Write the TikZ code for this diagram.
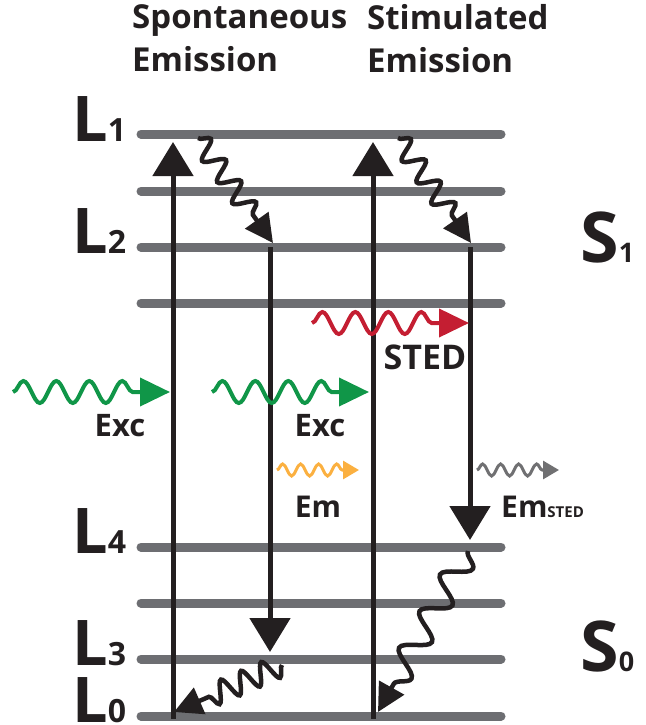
\documentclass[tikz,border=0pt]{standalone}
\usepackage{fontspec}
\setmainfont{Open Sans}
\usetikzlibrary{arrows.meta,calc,decorations.pathmorphing}
\definecolor{LevelGray}{RGB}{109,110,114}
\definecolor{Ink}{RGB}{35,31,32}
\definecolor{ExcGreen}{RGB}{16,150,72}
\definecolor{StedRed}{RGB}{196,30,50}
\definecolor{EmOrange}{RGB}{251,176,64}
\definecolor{EmGray}{RGB}{112,112,114}

\begin{document}
\begin{tikzpicture}[x=1pt,y=-1pt,>=Latex,
  level/.style={line width=9pt,LevelGray,line cap=round},
  pump/.style={line width=5pt,Ink,-{Triangle[width=40pt,length=34pt]}},
  relax/.style={line width=4.5pt,Ink,-{Triangle[width=28pt,length=28pt]}},
  wig/.style 2 args={decoration={snake,amplitude=#1,segment length=#2}},
  photon/.style={line width=4pt,#1,-{Triangle[width=28pt,length=30pt]},decorate,
    decoration={snake,amplitude=11pt,segment length=33pt,post length=30pt}},
  photonsmall/.style={line width=3pt,#1,-{Triangle[width=18pt,length=16pt]},decorate,
    decoration={snake,amplitude=6pt,segment length=18pt,post length=16pt}},
  lbl/.style={inner sep=0pt,text=Ink,font=\bfseries\fontsize{31}{31}\selectfont}]
\useasboundingbox (0,0) rectangle (645,725);
% energy levels
\foreach \n/\y in {1/134,a/191,2/247,b/303,4/547,c/603,3/659,0/716}{
  \coordinate (w\n) at (141,\y);\coordinate (e\n) at (501,\y);
  \draw[level] (w\n)--(e\n);}
\foreach \n/\y in {1/141,2/253,4/553,3/665,0/722}{
  \node[inner sep=0pt,anchor=base west,text=Ink,font=\bfseries] (lab\n) at (72,\y)
    {{\fontsize{63}{63}\selectfont L}{\fontsize{32}{32}\selectfont\n}};}
\node[inner sep=0pt,anchor=base west,text=Ink,font=\bfseries] (s1) at (580,262)
  {{\fontsize{70}{70}\selectfont S}{\fontsize{27}{27}\selectfont 1}};
\node[inner sep=0pt,anchor=base west,text=Ink,font=\bfseries] (s0) at (580,671)
  {{\fontsize{70}{70}\selectfont S}{\fontsize{27}{27}\selectfont 0}};
% titles
\node[lbl,anchor=north west,align=left,font=\bfseries\fontsize{33}{43}\selectfont] (spont) at (132,4) {Spontaneous\\Emission};
\node[lbl,anchor=north west,align=left,font=\bfseries\fontsize{33}{43}\selectfont] (stim) at (367,4) {Stimulated\\Emission};
% transitions
\foreach \c/\x in {c1/173,c2/270,c3/373,c4/470}{\coordinate (\c) at (\x,0);}
\draw[pump,shorten >=8pt,shorten <=-3pt] (c1|-w0)--(c1|-w1);
\draw[pump,shorten >=7pt] (c2|-w2)--(c2|-w3);
\draw[pump,shorten >=8pt,shorten <=-3pt] (c3|-w0)--(c3|-w1);
\draw[pump,shorten >=7pt] (c4|-w2)--(c4|-w4);
% vibrational relaxation
\coordinate (r1s) at (198,138);\coordinate (r1e) at (273,243);
\coordinate (r2s) at (398,138);\coordinate (r2e) at (471,243);
\coordinate (r3s) at (282,665);\coordinate (r3e) at (174,712);
\coordinate (r4s) at (468,551);\coordinate (r4e) at (378,712);
\draw[relax] (r1s) decorate[wig={10pt}{26pt}]{--($(r1e)!30pt!(r1s)$)}--(r1e);
\draw[relax] (r2s) decorate[wig={10pt}{26pt}]{--($(r2e)!30pt!(r2s)$)}--(r2e);
\draw[relax] (r3s) decorate[wig={11pt}{22pt}]{--($(r3e)!30pt!(r3s)$)}--(r3e);
\draw[relax] (r4s) decorate[wig={13pt}{42pt}]{--($(r4e)!30pt!(r4s)$)}--(r4e);
% photons
\coordinate (x1s) at (13,392);\coordinate (x1e) at (170,392);
\coordinate (x2s) at (212,392);\coordinate (x2e) at (369,392);
\coordinate (sts) at (312,323);\coordinate (ste) at (469,323);
\coordinate (ems) at (277,470);\coordinate (eme) at (359,470);
\coordinate (egs) at (477,470);\coordinate (ege) at (559,470);
\draw[photon=ExcGreen] (x1s)--(x1e);
\draw[photon=ExcGreen] (x2s)--(x2e);
\draw[photon=StedRed] (sts)--(ste);
\draw[photonsmall=EmOrange] (ems)--(eme);
\draw[photonsmall=EmGray] (egs)--(ege);
\node[lbl] (exc1) at (120,426) {Exc};
\node[lbl] (exc2) at (320,426) {Exc};
\node[lbl,font=\bfseries\fontsize{34}{34}\selectfont] (sted) at (425,357) {STED};
\node[lbl,font=\bfseries\fontsize{30}{30}\selectfont] (em) at (318,507) {Em};
\node[lbl,anchor=base west,font=\bfseries\fontsize{30}{30}\selectfont] (emsted) at (501,517) {Em{\fontsize{15}{15}\selectfont STED}};
\end{tikzpicture}
\end{document}
